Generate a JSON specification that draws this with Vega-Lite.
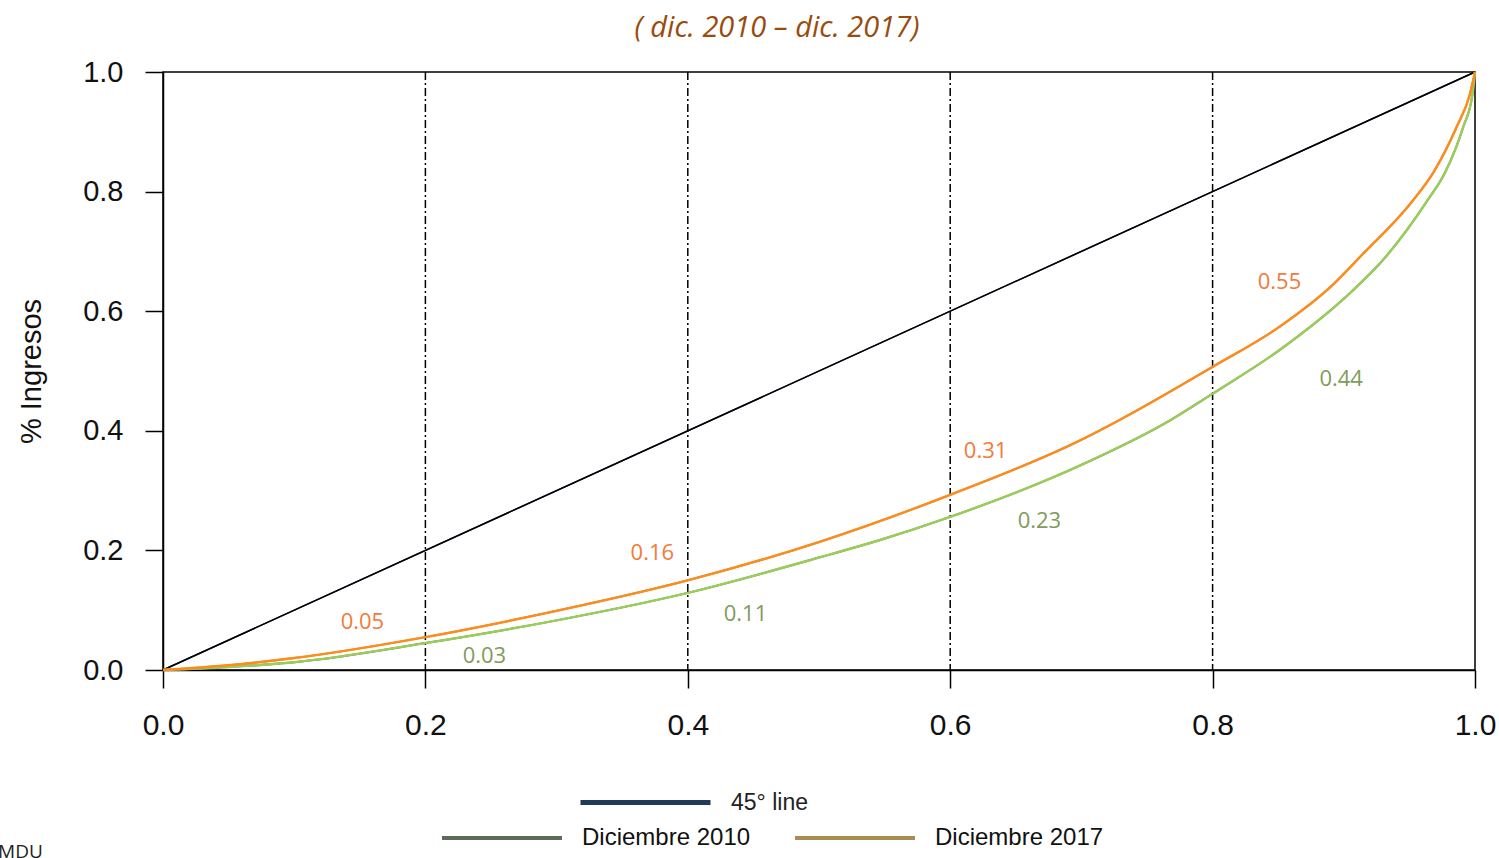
{
  "$schema": "https://vega.github.io/schema/vega-lite/v6.json",
  "width": 1312,
  "height": 598,
  "autosize": "none",
  "padding": {"left": 163, "top": 72, "right": 24, "bottom": 188},
  "background": "white",
  "config": {
    "view": {"stroke": "#000000", "strokeWidth": 1.5},
    "font": "Liberation Sans"
  },
  "title": {
    "text": "( dic. 2010 – dic. 2017)",
    "font": "Open Sans",
    "fontStyle": "italic",
    "fontWeight": "normal",
    "fontSize": 29,
    "color": "#9a4b0e",
    "anchor": "middle",
    "dx": -42,
    "offset": 15
  },
  "datasets": {
    "lorenz": [
      {"p": 0, "share": 0, "series": "Diciembre 2010"},
      {"p": 0.05, "share": 0.005, "series": "Diciembre 2010"},
      {"p": 0.1, "share": 0.013, "series": "Diciembre 2010"},
      {"p": 0.2, "share": 0.045, "series": "Diciembre 2010"},
      {"p": 0.3, "share": 0.083, "series": "Diciembre 2010"},
      {"p": 0.4, "share": 0.129, "series": "Diciembre 2010"},
      {"p": 0.5, "share": 0.188, "series": "Diciembre 2010"},
      {"p": 0.546, "share": 0.217, "series": "Diciembre 2010"},
      {"p": 0.6, "share": 0.256, "series": "Diciembre 2010"},
      {"p": 0.7, "share": 0.343, "series": "Diciembre 2010"},
      {"p": 0.768, "share": 0.418, "series": "Diciembre 2010"},
      {"p": 0.8, "share": 0.462, "series": "Diciembre 2010"},
      {"p": 0.851, "share": 0.535, "series": "Diciembre 2010"},
      {"p": 0.907, "share": 0.635, "series": "Diciembre 2010"},
      {"p": 0.93, "share": 0.686, "series": "Diciembre 2010"},
      {"p": 0.964, "share": 0.786, "series": "Diciembre 2010"},
      {"p": 0.977, "share": 0.831, "series": "Diciembre 2010"},
      {"p": 0.991, "share": 0.908, "series": "Diciembre 2010"},
      {"p": 0.998, "share": 0.962, "series": "Diciembre 2010"},
      {"p": 1.0, "share": 1.0, "series": "Diciembre 2010"},
      {"p": 0, "share": 0, "series": "Diciembre 2017"},
      {"p": 0.05, "share": 0.008, "series": "Diciembre 2017"},
      {"p": 0.1, "share": 0.02, "series": "Diciembre 2017"},
      {"p": 0.2, "share": 0.055, "series": "Diciembre 2017"},
      {"p": 0.3, "share": 0.099, "series": "Diciembre 2017"},
      {"p": 0.4, "share": 0.15, "series": "Diciembre 2017"},
      {"p": 0.5, "share": 0.214, "series": "Diciembre 2017"},
      {"p": 0.6, "share": 0.293, "series": "Diciembre 2017"},
      {"p": 0.7, "share": 0.385, "series": "Diciembre 2017"},
      {"p": 0.729, "share": 0.418, "series": "Diciembre 2017"},
      {"p": 0.8, "share": 0.507, "series": "Diciembre 2017"},
      {"p": 0.851, "share": 0.574, "series": "Diciembre 2017"},
      {"p": 0.892, "share": 0.645, "series": "Diciembre 2017"},
      {"p": 0.912, "share": 0.69, "series": "Diciembre 2017"},
      {"p": 0.953, "share": 0.786, "series": "Diciembre 2017"},
      {"p": 0.968, "share": 0.831, "series": "Diciembre 2017"},
      {"p": 0.986, "share": 0.908, "series": "Diciembre 2017"},
      {"p": 0.996, "share": 0.962, "series": "Diciembre 2017"},
      {"p": 1.0, "share": 1.0, "series": "Diciembre 2017"}
    ],
    "labels": [
      {"p": 0.152, "share": 0.080, "label": "0.05", "series": "Diciembre 2017"},
      {"p": 0.373, "share": 0.196, "label": "0.16", "series": "Diciembre 2017"},
      {"p": 0.627, "share": 0.366, "label": "0.31", "series": "Diciembre 2017"},
      {"p": 0.851, "share": 0.649, "label": "0.55", "series": "Diciembre 2017"},
      {"p": 0.245, "share": 0.023, "label": "0.03", "series": "Diciembre 2010"},
      {"p": 0.444, "share": 0.094, "label": "0.11", "series": "Diciembre 2010"},
      {"p": 0.668, "share": 0.249, "label": "0.23", "series": "Diciembre 2010"},
      {"p": 0.898, "share": 0.487, "label": "0.44", "series": "Diciembre 2010"}
    ],
    "guides": [{"p": 0.2}, {"p": 0.4}, {"p": 0.6}, {"p": 0.8}],
    "diag": [{"p": 0, "share": 0, "name": "45° line"}, {"p": 1, "share": 1, "name": "45° line"}]
  },
  "layer": [
    {
      "data": {"name": "guides"},
      "mark": {"type": "rule", "color": "#000000", "strokeWidth": 1.5, "strokeDash": [8, 3, 2, 3]},
      "encoding": {
        "x": {"field": "p", "type": "quantitative", "scale": {"domain": [0, 1], "nice": false, "zero": false},
          "axis": {
            "values": [0, 0.2, 0.4, 0.6, 0.8, 1.0],
            "format": ".1f",
            "grid": false,
            "domainColor": "#000000",
            "domainWidth": 1.5,
            "tickColor": "#000000",
            "tickWidth": 1.5,
            "tickSize": 18,
            "labelFont": "Liberation Sans",
            "labelFontSize": 30,
            "labelColor": "#111111",
            "labelPadding": 22,
            "labelFlush": false,
            "title": "EMDU",
            "titleFont": "Open Sans",
            "titleFontSize": 19,
            "titleFontWeight": "normal",
            "titleColor": "#222222",
            "titleAnchor": "start",
            "titleAlign": "left",
            "titleBaseline": "top",
            "titleX": -176,
            "titleY": 172
          }
        }
      }
    },
    {
      "data": {"name": "diag"},
      "mark": {"type": "line", "strokeWidth": 1.5},
      "encoding": {
        "x": {"field": "p", "type": "quantitative"},
        "y": {"field": "share", "type": "quantitative", "scale": {"domain": [0, 1], "nice": false, "zero": false},
          "axis": {
            "values": [0, 0.2, 0.4, 0.6, 0.8, 1.0],
            "format": ".1f",
            "grid": false,
            "domainColor": "#000000",
            "domainWidth": 1.5,
            "tickColor": "#000000",
            "tickWidth": 1.5,
            "tickSize": 18,
            "labelFont": "Liberation Sans",
            "labelFontSize": 29,
            "labelColor": "#111111",
            "labelPadding": 22,
            "labelFlush": false,
            "title": "% Ingresos",
            "titleFont": "Liberation Sans",
            "titleFontSize": 29,
            "titleFontWeight": "normal",
            "titleColor": "#111111",
            "titlePadding": 36
          }
        },
        "stroke": {
          "field": "name",
          "type": "nominal",
          "scale": {"domain": ["45° line"], "range": ["#1f3b57"]},
          "legend": {
            "orient": "none",
            "legendX": 415,
            "legendY": 663,
            "title": null,
            "symbolType": "stroke",
            "symbolSize": 16900,
            "symbolStrokeWidth": 5,
            "labelFont": "Liberation Sans",
            "labelFontSize": 23,
            "labelColor": "#222222",
            "labelOffset": 18,
            "labelLimit": 0
          }
        }
      }
    },
    {
      "data": {"name": "diag"},
      "mark": {"type": "line", "strokeWidth": 1.5, "color": "#000000"},
      "encoding": {
        "x": {"field": "p", "type": "quantitative"},
        "y": {"field": "share", "type": "quantitative"}
      }
    },
    {
      "data": {"name": "lorenz"},
      "mark": {"type": "line", "strokeWidth": 2, "interpolate": "monotone"},
      "encoding": {
        "x": {"field": "p", "type": "quantitative"},
        "y": {"field": "share", "type": "quantitative"},
        "color": {
          "field": "series",
          "type": "nominal",
          "scale": {"domain": ["Diciembre 2010", "Diciembre 2017"], "range": ["#5e6b58", "#a98c52"]},
          "legend": {
            "orient": "none",
            "legendX": 277,
            "legendY": 704,
            "direction": "horizontal",
            "title": null,
            "symbolType": "stroke",
            "symbolSize": 14400,
            "symbolStrokeWidth": 4,
            "labelFont": "Liberation Sans",
            "labelFontSize": 24,
            "labelColor": "#111111",
            "labelOffset": 18,
            "labelLimit": 0,
            "columnPadding": 36
          }
        },
        "order": {"field": "p", "type": "quantitative"}
      }
    },
    {
      "data": {"name": "lorenz"},
      "transform": [{"filter": "datum.series === 'Diciembre 2010'"}],
      "mark": {"type": "line", "strokeWidth": 2.4, "interpolate": "monotone", "color": "#9acd5a"},
      "encoding": {
        "x": {"field": "p", "type": "quantitative"},
        "y": {"field": "share", "type": "quantitative"},
        "order": {"field": "p", "type": "quantitative"}
      }
    },
    {
      "data": {"name": "lorenz"},
      "transform": [{"filter": "datum.series === 'Diciembre 2017'"}],
      "mark": {"type": "line", "strokeWidth": 2.4, "interpolate": "monotone", "color": "#ff8c1a"},
      "encoding": {
        "x": {"field": "p", "type": "quantitative"},
        "y": {"field": "share", "type": "quantitative"},
        "order": {"field": "p", "type": "quantitative"}
      }
    },
    {
      "data": {"name": "labels"},
      "transform": [{"filter": "datum.series === 'Diciembre 2017'"}],
      "mark": {"type": "text", "font": "Open Sans", "fontSize": 22, "color": "#f27a3a"},
      "encoding": {
        "x": {"field": "p", "type": "quantitative"},
        "y": {"field": "share", "type": "quantitative"},
        "text": {"field": "label"}
      }
    },
    {
      "data": {"name": "labels"},
      "transform": [{"filter": "datum.series === 'Diciembre 2010'"}],
      "mark": {"type": "text", "font": "Open Sans", "fontSize": 22, "color": "#7f9c5a"},
      "encoding": {
        "x": {"field": "p", "type": "quantitative"},
        "y": {"field": "share", "type": "quantitative"},
        "text": {"field": "label"}
      }
    }
  ]
}
